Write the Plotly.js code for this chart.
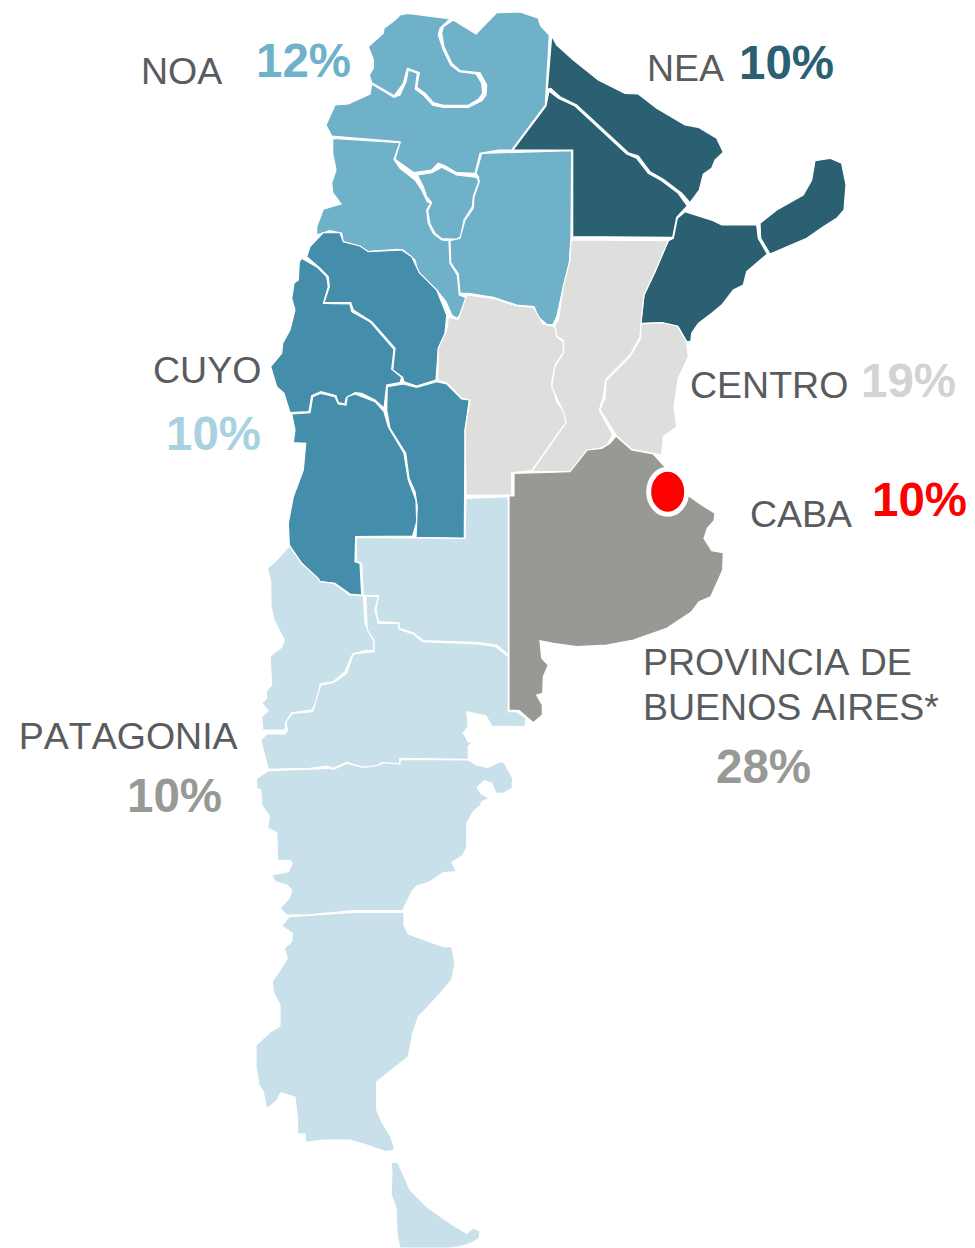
<!DOCTYPE html>
<html>
<head>
<meta charset="utf-8">
<script src="https://cdn.plot.ly/plotly-3.0.1.min.js"></script>
<style>html,body{margin:0;padding:0;background:#fff}#map{width:975px;height:1248px}#map svg text{font-kerning:none}</style>
</head>
<body>
<div id="map"></div>
<script>
// Province outlines (x, y on the map's 975 x 1248 grid)
const jujuy=[[408.3,13.3],[450,19],[440,28.3],[438.3,35],[443.3,50],[450.7,65],[459.3,71.7],[476,74],[481.7,83.3],[482.7,93.3],[478.3,99.3],[468.3,105.3],[443.3,105.3],[433.3,102.7],[425,93.3],[416.7,87.3],[419.3,72.7],[407.3,68.3],[403.3,83.3],[394.3,95.7],[371.7,82.7],[369.3,75],[373.3,68.3],[373.3,59.3],[368.3,46.7],[383.3,33.3],[384,28.3],[395,20],[400,15]];
const salta=[[453.3,20],[476,34],[496.7,12.7],[520,12],[538.3,18.3],[540.7,26],[549.3,35],[545.3,105],[511.7,150],[498.3,150],[480,153.3],[475,173.3],[456.7,172.7],[445,165.7],[438.3,163.3],[431.7,170],[414,172.7],[395,159.3],[400,141.7],[331.7,136],[326,125],[335,105],[348.3,104],[370,94],[371.7,84],[394,97.3],[400,95],[406,81.7],[408.3,70],[417.3,73.3],[415.3,89.3],[423.3,95],[432.7,105.3],[443.3,107.3],[468.3,107.3],[481.7,100.7],[486,95],[486.7,85],[480,72.7],[460,70.7],[451.7,63.3],[444,46.7],[441.7,33.3],[443.3,26.7]];
const catamarca=[[332.7,138.3],[400,142.7],[394,159.3],[400,168.3],[415,180],[421.7,190],[427.3,201.7],[430.7,203.3],[426.7,210],[428.3,223.3],[433.3,233.3],[441.7,240],[449,240.7],[450,263.3],[457.3,275],[459.3,295],[466.7,297.7],[461.7,313.3],[456.7,318.3],[451.7,315],[446,301.7],[436.7,290],[418.3,273.3],[415,260],[403.3,250],[396.7,249.3],[368.3,251.7],[358.3,246],[343.3,242.7],[341.7,233.3],[330,230.7],[316.7,235],[316.7,226.7],[323.3,209.3],[341,204],[332.7,192.7],[331.7,183.3],[336,170],[332.7,153.3]];
const tucuman=[[417.3,175],[431.7,172.7],[441.7,167.3],[456.7,175],[476.7,177.3],[478.7,181.7],[473.3,196.7],[472.3,206.7],[464,220],[460.7,236.7],[456.7,239.3],[441.7,238.7],[435,233.3],[430,224],[427.7,210.7],[431.7,202.7],[426.7,196.7],[423.3,186.7]];
const santiago=[[481.7,153.3],[571.7,150.7],[571,236.7],[569.3,263.3],[563.3,286.7],[557,316],[553,324.5],[546.7,324.3],[538.3,317.3],[534,306.5],[516.7,305],[493.3,297.3],[468.3,293.3],[460,293.3],[458.3,274],[450.7,262.7],[450,240.7],[460,238.3],[465,220],[473.3,208.3],[474,196.7],[479.3,181.7],[478.3,176.7],[476,173.3]];
const formosa=[[551.7,36],[556.7,45],[573.3,60],[598.3,80],[625,93.3],[638.3,94],[656.7,108.3],[685,125],[698.3,127.3],[716.7,138.3],[723.3,152.3],[715,160],[711.7,168.3],[703.3,174],[699.3,190],[690,202.7],[681.7,193.3],[663.3,179.3],[650,171.7],[638.3,156],[628.3,152.7],[576.7,105],[560,96.7],[550.7,88.3],[547.3,89.3]];
const chaco=[[549,91],[558.3,98.3],[575,106],[626.7,154],[636.7,158.3],[648.3,173.3],[661.7,180.7],[678.3,193.3],[687.3,206],[683.3,210.7],[676.7,217.3],[672.7,237.3],[572.7,236.7],[572.7,150],[513,150],[546,106]];
const corrientes=[[685,211.7],[713.3,220.7],[721.7,225],[756.7,225],[758.3,238.3],[767.3,254],[746.7,271.7],[743.3,285],[733.3,290],[721.7,305],[711.7,313.3],[698.3,323.3],[691.7,333.3],[690.7,341.7],[686.7,341.7],[678.3,326.7],[661.7,322.7],[640.7,323.3],[644,295],[655,271.7],[668.3,240.7],[673.3,238.3],[677.3,218.3]];
const misiones=[[760,223.3],[776.7,210],[803.3,195],[811.7,180],[815,160.7],[830,158.3],[841.7,163.3],[846,185],[844,210],[836.7,218.3],[823.3,226.7],[806.7,238.3],[770,254],[760.7,238.3]];
const laRioja=[[306.7,256.7],[310,246.7],[323.3,232.7],[340,232.7],[343.3,241.7],[360,246],[368.3,251.7],[401.7,250],[411.7,256.7],[419.3,272.7],[436.7,290],[446.7,315],[445,333.3],[438.3,348.3],[436,380],[416.7,386],[404,381.7],[402.7,377.3],[392.7,370],[395,348.3],[371.7,321.7],[353.3,310],[350.7,302.7],[324,302.7],[329.3,286.7],[328.3,276.7],[320,268.3]];
const sanJuan=[[301.7,258.3],[317.3,267.3],[326.7,276.7],[328.3,286.7],[323.3,303.3],[350,304],[351.7,311.7],[370,321.7],[394,349.3],[391.7,369.3],[401.7,377.3],[400,382.7],[386.7,385],[384,408.3],[375,400],[361.7,393.3],[355,392.7],[346,398.3],[345,404],[338.3,402.7],[336,395.7],[321,391.7],[311.7,395.7],[309,411.7],[290,412.7],[284,393.3],[276.7,386.7],[270.7,366.7],[281.7,353.3],[282.7,343.3],[290,330],[295,310],[291.7,298.3],[294,283.3],[298.3,280],[299.3,261.7]];
const mendoza=[[291.7,414],[310,412.7],[312.7,396.7],[321,393.3],[335,396.7],[338.3,404],[346,405],[347.3,396.7],[355,394],[375,401.7],[384,411.7],[388.3,426.7],[404,453.3],[408.3,480],[416,500],[416.7,521.7],[412.7,536],[355.7,536.7],[355,561.7],[360,563.3],[361.7,595],[350,594],[335,583.3],[320,581.7],[301.7,563.3],[289.3,545],[288.3,523.3],[293.3,496.7],[303.3,470],[305.7,443.3],[293.3,442.7],[295,430]];
const sanLuis=[[387.3,386.7],[403.3,384],[416.7,387.3],[436.7,381.7],[446.7,384],[461.7,399],[469.3,400],[465,430],[464.3,538.3],[416,537.3],[417.3,506.7],[415,491.7],[409,478.3],[405.7,453.3],[390,428.3],[386.7,410]];
const cordoba=[[448.3,317.3],[458.3,319.3],[466.7,295],[493.3,298.3],[516.7,306],[533.3,307.3],[543.3,324.3],[555,326.7],[557.3,337.3],[563.3,341.7],[563.3,352.7],[555,365],[551.7,383.3],[556.7,401.7],[565,413.3],[566,422.7],[531.7,470.7],[511.7,472.7],[511.7,495],[466,495],[465,430],[470,400],[461.7,398.3],[446.7,382.7],[437.7,380.7],[438.3,348.3],[446.7,330]];
const santaFe=[[571,240],[668.3,240.7],[655,271.7],[644,295],[641,323.3],[640,336.7],[630,355],[605.7,379.3],[603.3,396.7],[599.3,410],[612.7,435],[606.7,445],[600,448.3],[587.3,450],[570.7,471.7],[531.7,471.7],[566,422.7],[563.3,411.7],[551.7,386.7],[555,366.7],[564,351.7],[563.3,340],[556.7,336],[555,325],[558.3,320],[563.3,286.7],[570,260]];
const entreRios=[[640.7,324],[661.7,322.7],[677.3,326],[686.7,341.7],[688.3,356.7],[678.3,378.3],[674,406.7],[676.7,426.7],[663.3,436.7],[661.7,455],[654,453.3],[631.7,449.3],[616.7,436],[600,409.3],[605,398],[606,380.7],[630,356.7],[640.7,338.3]];
const buenosAires=[[616,436],[631.7,450],[653.3,454],[663.3,465],[690,496.7],[701.7,505],[715,513.3],[714,520.7],[707.3,528.3],[704,538.3],[711.7,550.7],[723.3,552.7],[722.7,570],[710.7,596.7],[699,601.7],[691.7,611.7],[666.7,628.3],[633.3,640],[606.7,645],[576.7,646.7],[553.3,643.3],[540,640.7],[541.7,658.3],[548.3,665],[543.3,676.7],[542.7,693.3],[536.7,695],[542.3,705],[542.3,715],[533.3,722.7],[519.3,710.7],[509,710],[509,496],[514,496],[514,473.3],[570,471.7],[587.3,450],[601.7,448.3],[610,443.3]];
const laPampa=[[466,498.3],[508.3,496.7],[508.3,655],[496.7,645],[478.3,642.7],[431.7,640.7],[423.3,640.7],[413.3,632.7],[399,628.3],[399,622.7],[378.3,621.7],[376,610],[378.3,595.7],[363.3,595],[361.7,563.3],[356.7,561.7],[356,537.3],[465,538.3]];
const neuquen=[[289.3,546],[301.7,563.3],[318.3,578.3],[320,581.7],[334,583.3],[349.3,595],[363.3,596],[365,623.3],[373.3,640],[374,650.7],[365,650.7],[352.7,654],[345,671.7],[333.3,681.7],[320,684],[318.3,700],[311.7,710],[291.7,712.7],[286,721.7],[285,730],[262.7,730],[261.7,716.7],[268.3,710.7],[261.7,703.3],[266.7,698.3],[266,691.7],[271.7,685],[270,656],[281.7,647.3],[284.3,640],[274,620],[271,606.7],[270.7,581.7],[267.3,568.3],[275,561.7]];
const rioNegro=[[365.7,596],[378.3,596.7],[375,610],[378.3,623.3],[398.3,623.3],[399,629.3],[413.3,634],[422.7,641.7],[478.3,644],[496,646.7],[508.3,656.7],[508.3,711.7],[516.7,711.7],[526,718.3],[525,726.7],[491.7,726],[486,716],[466.7,711.7],[468.3,726.7],[463.3,732.7],[468.3,741.7],[472.7,743.3],[468.3,746],[468.3,759.3],[400,758.3],[399.3,764],[381.7,762.7],[376.7,766],[362.7,767.3],[346.7,762.3],[333.3,768.3],[327.3,766],[310,768.3],[268.3,769.3],[265,756.7],[260.7,740],[266.7,734],[285,734],[287.3,730.7],[286,721.7],[292.3,713.3],[312.7,711.7],[320.7,685],[333.3,682.7],[346.7,673.3],[353.3,654],[374,651.7],[374,640],[367.3,630]];
const chubut=[[468.3,760],[476.7,765],[487.3,767.7],[500,761.7],[504,762.3],[512.7,778.3],[512,788.3],[503.3,793.3],[496,793.3],[491.7,783.3],[484.3,780.7],[477.3,787.3],[480.7,793.3],[489.3,798.3],[481.7,801.7],[480,806],[473.3,811.7],[466.7,823.3],[466.7,846.7],[463.3,855],[451.7,862.7],[456.7,871.7],[443.3,872.7],[430,881.7],[416.7,886],[411.7,891.7],[402.7,910.7],[353.3,910.7],[306.7,915],[286.7,915],[280,908.3],[289.3,898.3],[291.7,890],[286.7,885],[275,881.7],[271.7,875],[288.3,871.7],[292.3,863.3],[290,860.7],[277.7,860],[276.7,832.7],[267.7,828.3],[269.3,816],[261.7,805],[260.7,790],[256.7,788.3],[256.7,778.3],[268.3,770.7],[330,768.3],[333.3,769.3],[347.3,763.3],[363.3,767.3],[376.7,765.7],[383.3,762.7],[400,764],[400,759.3]];
const santaCruz=[[289.3,916.7],[353.3,912.3],[404,912.3],[404,925],[408.3,934],[443.3,946.7],[451.7,946.7],[455,963.3],[451.7,980],[441.7,991.7],[425,1010],[418.3,1016.7],[412.7,1033.3],[408.3,1056.7],[376.7,1081.7],[376.7,1110],[381.7,1121.7],[390.7,1136.7],[395,1150],[386,1151.7],[366.7,1145],[350,1140],[323.3,1140],[305.7,1142.3],[305,1134],[297.7,1134],[297.3,1116.7],[295,1097.3],[280.7,1092.7],[277.3,1100],[266.7,1109],[263.3,1091.7],[259,1085],[256,1066.7],[256,1045],[270.7,1031.7],[280,1026],[280,1005],[273.3,991.7],[272.3,981.7],[280,970],[287.3,958.3],[284.3,948.3],[291.7,941.7],[292.3,933.3],[281.7,925.7]];
const tierraDelFuego=[[391,1162.7],[397.7,1162],[405,1178.3],[410,1190],[426.7,1206.7],[450,1223.3],[466.7,1233.3],[472.7,1228.3],[480,1230.7],[479.3,1238.3],[471.7,1242.7],[460,1246.7],[450,1248],[400,1248],[397.3,1236.7],[396,1208.3],[391,1194],[392,1173.3]];
const cabaEllipse=[648.7,469.2,686.7,514.2];

const regions=[
 {name:'NOA',color:'#70B1CA',shapes:[jujuy,salta,catamarca,tucuman,santiago]},
 {name:'NEA',color:'#2B6073',shapes:[formosa,chaco,corrientes,misiones]},
 {name:'CUYO',color:'#448EAB',shapes:[laRioja,sanJuan,mendoza,sanLuis]},
 {name:'CENTRO',color:'#DEDEDD',shapes:[cordoba,santaFe,entreRios]},
 {name:'PATAGONIA',color:'#C7E0EA',shapes:[laPampa,neuquen,rioNegro,chubut,santaCruz,tierraDelFuego]},
 {name:'PROVINCIA DE BUENOS AIRES',color:'#979994',shapes:[buenosAires]}
];

const labelText=['NOA','NEA','CUYO','CENTRO','CABA','PROVINCIA DE','BUENOS AIRES*','PATAGONIA'];
const labelX=[141,647,153,690,750,644,644,23];
const labelY=[71,68,370,385,514,662,707,736];
const pctText=['12%','10%','10%','19%','10%','28%','10%'];
const pctX=[256,739,166,861,872,716,127];
const pctY=[60,62.5,433,380,499,766,795];
const pctColor=['#70B1CA','#2B6073','#A9D2E0','#D3D3D3','#FF0000','#979994','#979994'];

const traces=[];
regions.forEach(r=>r.shapes.forEach(s=>{
  traces.push({type:'scatter',mode:'lines',name:r.name,
    x:s.map(p=>p[0]).concat(s[0][0]),y:s.map(p=>p[1]).concat(s[0][1]),
    fill:'toself',fillcolor:r.color,line:{color:'#FFFFFF',width:1.2},
    hoverinfo:'name',showlegend:false});
}));

const note=(t,x,y,size,color,bold)=>({text:bold?'<b>'+t+'</b>':t,x,y,xref:'x',yref:'y',xanchor:'left',yanchor:'middle',
  showarrow:false,borderpad:0,borderwidth:0,font:{family:'"Liberation Sans",Arial,sans-serif',size,color}});
const annotations=[
  ...labelText.map((t,i)=>note(t,labelX[i],labelY[i],37.5,'#595C5F',false)),
  ...pctText.map((t,i)=>note(t,pctX[i],pctY[i],47.5,pctColor[i],true))
];

Plotly.newPlot('map',traces,{
  width:975,height:1248,margin:{l:0,r:0,t:0,b:0},
  paper_bgcolor:'#FFFFFF',plot_bgcolor:'#FFFFFF',showlegend:false,
  xaxis:{range:[0,975],visible:false,fixedrange:true},
  yaxis:{range:[1248,0],visible:false,fixedrange:true},
  shapes:[{type:'circle',xref:'x',yref:'y',x0:cabaEllipse[0],y0:cabaEllipse[1],x1:cabaEllipse[2],y1:cabaEllipse[3],
    fillcolor:'#FF0000',line:{color:'#FFFFFF',width:5},layer:'above'}],
  annotations
},{displayModeBar:false,staticPlot:true});
</script>
</body>
</html>
